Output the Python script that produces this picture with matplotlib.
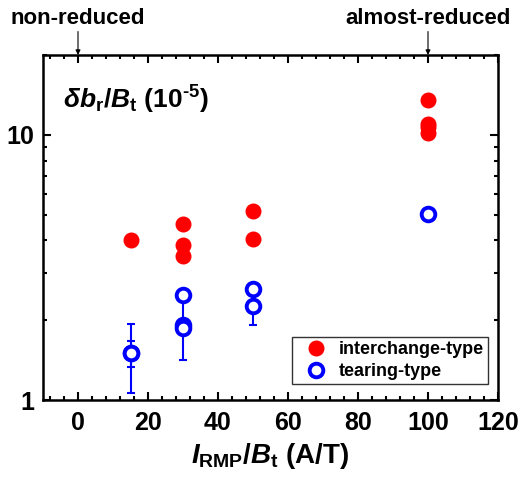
import matplotlib
matplotlib.use("Agg")
import matplotlib.pyplot as plt
from matplotlib.ticker import MultipleLocator, LogLocator, NullFormatter, FixedLocator, FixedFormatter

plt.rcParams['font.family'] = ['Liberation Sans', 'DejaVu Sans']
plt.rcParams['font.weight'] = 'bold'
plt.rcParams['mathtext.fontset'] = 'custom'
plt.rcParams['mathtext.rm'] = 'Liberation Sans:bold'
plt.rcParams['mathtext.it'] = 'Liberation Sans:italic:bold'
plt.rcParams['mathtext.bf'] = 'Liberation Sans:bold'

# interchange-type
ic_x = [15, 30, 30, 30, 50, 50, 100, 100, 100, 100]
ic_y = [4.0, 4.6, 3.85, 3.5, 5.18, 4.04, 13.5, 11.0, 10.7, 10.2]

# tearing-type
tr_x = [15, 15, 30, 30, 30, 50, 50, 100]
tr_y = [1.50, 1.50, 2.48, 1.92, 1.87, 2.62, 2.26, 5.02]
tr_err = [0.44, 0.17, 0.0, 0.5, 0.0, 0.03, 0.34, 0.0]

annot_x = [0, 100]
annot_txt = ['non-reduced', 'almost-reduced']

fig = plt.figure(figsize=(5.28, 4.79), dpi=100)
ax = fig.add_axes([43/528, 1-400/479, (498-43)/528, (400-55)/479])

ax.errorbar(tr_x, tr_y, yerr=tr_err, fmt='none', ecolor='blue', elinewidth=1.5,
            capsize=3, capthick=1.5, zorder=2)
ax.plot(ic_x, ic_y, 'o', color='red', ms=10.5, mec='red', label='interchange-type', zorder=3)
ax.plot(tr_x, tr_y, 'o', mfc='white', mec='blue', mew=2.8, ms=9.8, label='tearing-type', zorder=4)

ax.set_yscale('log')
ax.set_xlim(-10, 120)
ax.set_ylim(1, 20)
ax.xaxis.set_major_locator(MultipleLocator(20))
ax.xaxis.set_minor_locator(MultipleLocator(4))
ax.yaxis.set_major_locator(FixedLocator([1, 10]))
ax.yaxis.set_major_formatter(FixedFormatter(['1', '10']))
ax.yaxis.set_minor_locator(LogLocator(base=10, subs=range(2, 10)))
ax.yaxis.set_minor_formatter(NullFormatter())

ax.tick_params(which='both', direction='in', top=True, right=True, width=1.5)
ax.tick_params(which='major', length=6, labelsize=18)
ax.tick_params(axis='x', which='major', pad=8)
ax.tick_params(axis='y', which='major', pad=6)
ax.tick_params(which='minor', length=3)
for lbl in ax.get_xticklabels() + ax.get_yticklabels():
    lbl.set_fontweight('bold')
for s in ax.spines.values():
    s.set_linewidth(1.8)

ax.set_xlabel(r'$\mathit{I}_{\mathrm{RMP}}\mathit{/B}_{\mathrm{t}}$ (A/T)', fontsize=20, fontweight='bold', labelpad=4)
ax.text(0.045, 0.87, r'$\mathit{\delta b}_{\mathrm{r}}\mathit{/B}_{\mathrm{t}}$ (10$^{\text{-5}}$)',
        transform=ax.transAxes, fontsize=19, fontweight='bold', va='center', ha='left')

for xv, t in zip(annot_x, annot_txt):
    ax.text(xv, 1.107, t, transform=ax.get_xaxis_transform(), ha='center', va='center',
            fontsize=16, fontweight='bold', clip_on=False)
    ax.annotate('', xy=(xv, 1.0), xytext=(xv, 1.068), xycoords=ax.get_xaxis_transform(),
                textcoords=ax.get_xaxis_transform(),
                arrowprops=dict(arrowstyle='-|>', color='black', lw=0.8, mutation_scale=7,
                                shrinkA=0, shrinkB=0), annotation_clip=False)

leg = ax.legend(loc='lower right', bbox_to_anchor=(0.978, 0.045), fontsize=13, frameon=True,
                fancybox=False, edgecolor='black', handletextpad=0.2, borderpad=0.25,
                labelspacing=0.25, handlelength=2.1, borderaxespad=0)
leg.get_frame().set_linewidth(1.0)
for t in leg.get_texts():
    t.set_fontweight('bold')

fig.savefig('out.png', dpi=100)
